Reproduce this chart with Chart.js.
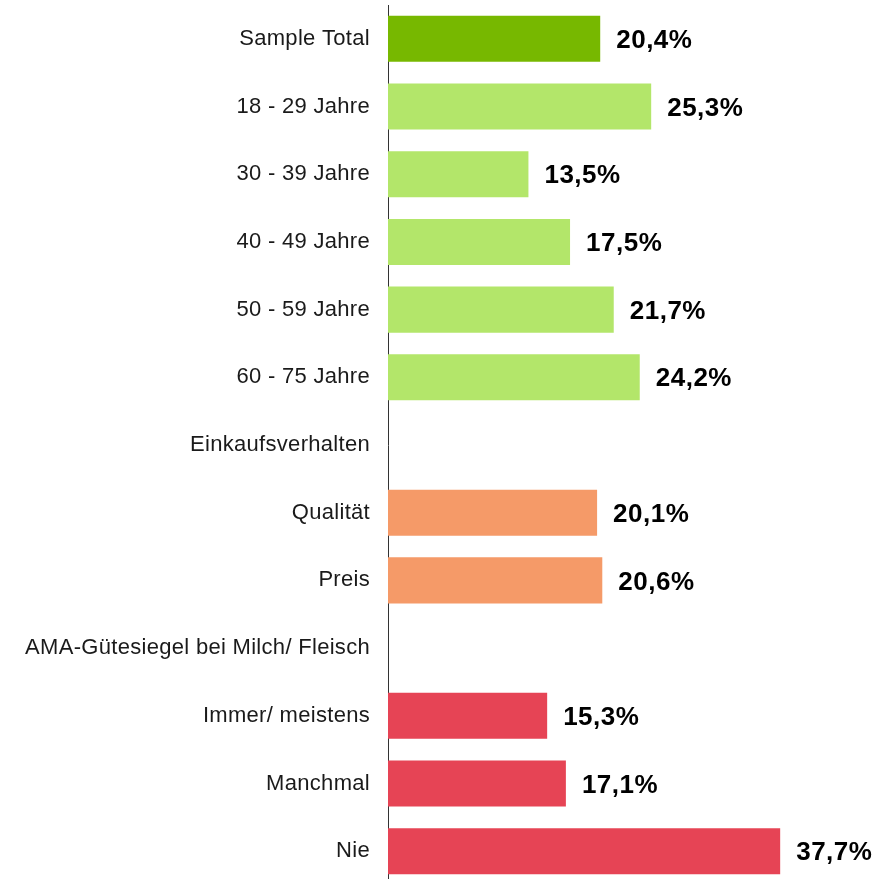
<!DOCTYPE html>
<html>
<head>
<meta charset="utf-8">
<script src="https://cdn.jsdelivr.net/npm/chart.js@4.4.1/dist/chart.umd.min.js"></script>
<style>
  html, body { margin: 0; padding: 0; background: #fff; overflow: hidden; }
  #wrap { width: 879px; height: 885px; }
</style>
</head>
<body>
<div id="wrap"><canvas id="chart" width="879" height="885"></canvas></div>
<script>
// Kategorien und Werte (in %)
const categories = [
  'Sample Total', '18 - 29 Jahre', '30 - 39 Jahre', '40 - 49 Jahre',
  '50 - 59 Jahre', '60 - 75 Jahre', 'Einkaufsverhalten', 'Qualität', 'Preis',
  'AMA-Gütesiegel bei Milch/ Fleisch', 'Immer/ meistens', 'Manchmal', 'Nie'
];
const values = [20.4, 25.3, 13.5, 17.5, 21.7, 24.2, null, 20.1, 20.6, null, 15.3, 17.1, 37.7];
const groups = ['total', 'age', 'age', 'age', 'age', 'age', null, 'buy', 'buy', null, 'ama', 'ama', 'ama'];

const groupColors = { total: '#77b800', age: '#b3e66a', buy: '#f59a68', ama: '#e64455' };
const FONT = '"Liberation Sans", Arial, sans-serif';

// Werte-Beschriftung rechts neben den Balken
const valueLabels = {
  id: 'valueLabels',
  beforeDraw(chart) {
    chart.ctx.letterSpacing = '0.3px';
  },
  afterDatasetsDraw(chart) {
    const ctx = chart.ctx;
    const meta = chart.getDatasetMeta(0);
    ctx.save();
    ctx.letterSpacing = '0.5px';
    ctx.font = 'bold 26px ' + FONT;
    ctx.fillStyle = '#000';
    ctx.textAlign = 'left';
    ctx.textBaseline = 'middle';
    meta.data.forEach((bar, i) => {
      const v = values[i];
      if (v == null) return;
      ctx.fillText(v.toFixed(1).replace('.', ',') + '%', bar.x + 16, bar.y + 2);
    });
    ctx.restore();
  }
};

new Chart(document.getElementById('chart'), {
  type: 'bar',
  data: {
    labels: categories,
    datasets: [{
      data: values,
      backgroundColor: groups.map(g => g ? groupColors[g] : 'transparent'),
      barPercentage: 0.68,
      categoryPercentage: 1.0
    }]
  },
  options: {
    indexAxis: 'y',
    responsive: false,
    animation: false,
    layout: { padding: { top: 5, right: 0, bottom: 0, left: 0 } },
    plugins: { legend: { display: false }, tooltip: { enabled: false } },
    scales: {
      x: { display: false, min: 0, max: 47.2 },
      y: {
        afterFit(scale) {
          scale.width = 388;
          scale.paddingTop = 0;
          scale.paddingBottom = 0;
        },
        grid: { display: false, drawTicks: false },
        border: { display: true, color: '#333', width: 1 },
        ticks: {
          padding: 18,
          color: '#1a1a1a',
          font: { family: FONT, size: 22 }
        }
      }
    }
  },
  plugins: [valueLabels]
});
</script>
</body>
</html>
